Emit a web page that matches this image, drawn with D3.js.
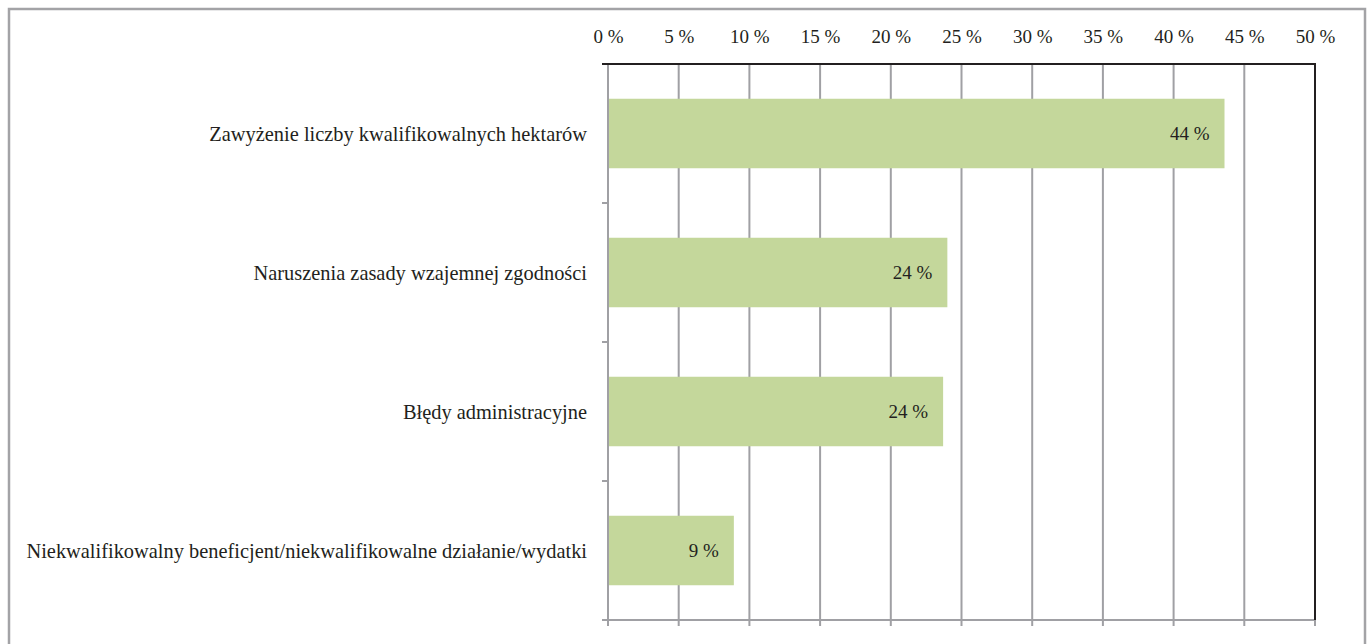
<!DOCTYPE html>
<html>
<head>
<meta charset="utf-8">
<script src="https://cdn.jsdelivr.net/npm/d3@7"></script>
<style>
  body { margin: 0; background: #fff; }
  text { font-family: "Liberation Serif", "DejaVu Serif", serif; fill: #231f20; }
</style>
</head>
<body>
<svg id="svg1" width="1368" height="644"></svg>
<script>
// data
var categories = [
  "Zawyżenie liczby kwalifikowalnych hektarów",
  "Naruszenia zasady wzajemnej zgodności",
  "Błędy administracyjne",
  "Niekwalifikowalny beneficjent/niekwalifikowalne działanie/wydatki"
];
var values = [43.6, 24.0, 23.7, 8.9];
var valueLabels = ["44 %", "24 %", "24 %", "9 %"];
var tickValues = [0, 5, 10, 15, 20, 25, 30, 35, 40, 45, 50];

// layout
var plotLeft = 608, plotRight = 1315, plotTop = 64, plotBottom = 620;
var fontSize = 19;
var catFontSize = 20.4;

var svg = d3.select("#svg1");

// outer frame
svg.append("rect")
  .attr("x", 9).attr("y", 9)
  .attr("width", 1356).attr("height", 660)
  .attr("fill", "none")
  .attr("stroke", "#a3a3a6")
  .attr("stroke-width", 2.5);

var xScale = d3.scaleLinear().domain([0, 50]).range([plotLeft, plotRight]);
var yScale = d3.scaleBand().domain(categories).range([plotTop, plotBottom]).paddingInner(0.5).paddingOuter(0.25);

// vertical gridlines (grey), extend below as bottom ticks
svg.append("g")
  .selectAll("line")
  .data(tickValues)
  .enter().append("line")
    .attr("x1", function (d) { return xScale(d); })
    .attr("x2", function (d) { return xScale(d); })
    .attr("y1", plotTop)
    .attr("y2", plotBottom + 6)
    .attr("stroke", "#a0a0a4")
    .attr("stroke-width", 2);

// bottom axis line
svg.append("line")
  .attr("x1", plotLeft - 6).attr("x2", plotRight)
  .attr("y1", plotBottom).attr("y2", plotBottom)
  .attr("stroke", "#a0a0a4").attr("stroke-width", 2);

// right border black
svg.append("line")
  .attr("x1", plotRight).attr("x2", plotRight)
  .attr("y1", plotTop).attr("y2", plotBottom)
  .attr("stroke", "#231f20").attr("stroke-width", 2);

// category separator ticks on the left
var sepTicks = d3.range(categories.length + 1).map(function (i) { return plotTop + i * yScale.step(); });
svg.append("g")
  .selectAll("line")
  .data(sepTicks)
  .enter().append("line")
    .attr("x1", plotLeft - 6).attr("x2", plotLeft)
    .attr("y1", function (d) { return d; })
    .attr("y2", function (d) { return d; })
    .attr("stroke", "#a0a0a4").attr("stroke-width", 2);

// top axis line (black)
svg.append("line")
  .attr("x1", plotLeft - 6).attr("x2", plotRight + 1)
  .attr("y1", plotTop).attr("y2", plotTop)
  .attr("stroke", "#231f20").attr("stroke-width", 2);

// top tick labels
var xAxis = d3.axisTop(xScale)
  .tickValues(tickValues)
  .tickSize(0)
  .tickPadding(0)
  .tickFormat(function (d) { return d + " %"; });
var gx = svg.append("g")
  .attr("transform", "translate(0," + 43 + ")")
  .call(xAxis);
gx.select(".domain").remove();
gx.selectAll("text")
  .attr("dy", 0)
  .style("font-family", "Liberation Serif, DejaVu Serif, serif")
  .style("font-size", fontSize + "px")
  .attr("fill", "#231f20");

// bars
svg.append("g")
  .selectAll("rect")
  .data(values)
  .enter().append("rect")
    .attr("x", xScale(0) + 1)
    .attr("y", function (d, i) { return yScale(categories[i]); })
    .attr("width", function (d) { return xScale(d) - xScale(0) - 1; })
    .attr("height", yScale.bandwidth())
    .attr("fill", "#c4d79b");

// value labels inside bar ends
svg.append("g")
  .selectAll("text")
  .data(values)
  .enter().append("text")
    .attr("x", function (d) { return xScale(d) - 15; })
    .attr("y", function (d, i) { return yScale(categories[i]) + yScale.bandwidth() / 2; })
    .attr("dy", "0.35em")
    .attr("text-anchor", "end")
    .style("font-size", fontSize + "px")
    .text(function (d, i) { return valueLabels[i]; });

// category labels
svg.append("g")
  .selectAll("text")
  .data(categories)
  .enter().append("text")
    .attr("x", 587)
    .attr("y", function (d) { return yScale(d) + yScale.bandwidth() / 2; })
    .attr("dy", "0.35em")
    .attr("text-anchor", "end")
    .style("font-size", catFontSize + "px")
    .text(function (d) { return d; });
</script>
</body>
</html>
